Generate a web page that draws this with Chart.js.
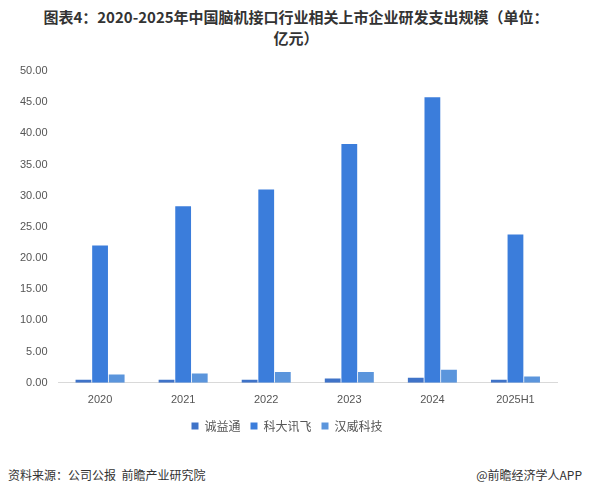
<!DOCTYPE html>
<html><head><meta charset="utf-8">
<script src="https://cdn.jsdelivr.net/npm/chart.js@4"></script>
<style>
body{margin:0;width:590px;height:494px;background:#fff;font-family:"Noto Sans CJK SC",sans-serif;position:relative;overflow:hidden}
#t{position:absolute;left:8px;top:6px;width:576px;font-size:15px;font-weight:bold;color:#333;line-height:21px;text-align:center}
#c{position:absolute;left:0;top:56px;width:590px;height:386px}
#f1{position:absolute;left:8px;top:466px;font-size:12px;color:#333}
#f2{position:absolute;right:8px;top:466px;font-size:12px;color:#333}
</style></head><body>
<div id="t">图表4：2020-2025年中国脑机接口行业相关上市企业研发支出规模（单位：<br>亿元）</div>
<div id="c"><canvas id="cv"></canvas></div>
<div id="f1">资料来源：公司公报&nbsp; 前瞻产业研究院</div>
<div id="f2">@前瞻经济学人APP</div>
<script>
const categories=["2020","2021","2022","2023","2024","2025H1"];
const chengyitong=[0.5,0.5,0.5,0.7,0.8,0.5];
const keda=[22.0,28.3,31.0,38.3,45.8,23.8];
const hanwei=[1.35,1.5,1.75,1.75,2.1,1.0];
new Chart(document.getElementById('cv'),{type:'bar',
data:{labels:categories,datasets:[
{label:'诚益通',data:chengyitong,backgroundColor:'#3f73c8'},
{label:'科大讯飞',data:keda,backgroundColor:'#3b7ddb'},
{label:'汉威科技',data:hanwei,backgroundColor:'#5b95dc'}]},
options:{responsive:true,maintainAspectRatio:false,animation:false,
layout:{padding:{left:17,right:33,top:15,bottom:0}},
datasets:{bar:{categoryPercentage:0.6,barPercentage:0.95}},
plugins:{legend:{position:'bottom',labels:{boxWidth:7,boxHeight:7,font:{size:12,family:'Noto Sans CJK SC'},color:'#555',padding:10}},tooltip:{enabled:false}},
scales:{x:{grid:{display:false},border:{color:'#d9d9d9'},ticks:{color:'#555',font:{size:11}}},
y:{min:0,max:50,grid:{display:false},border:{display:false},ticks:{stepSize:5,color:'#555',font:{size:11},callback:v=>v.toFixed(2)}}}}});
</script></body></html>
